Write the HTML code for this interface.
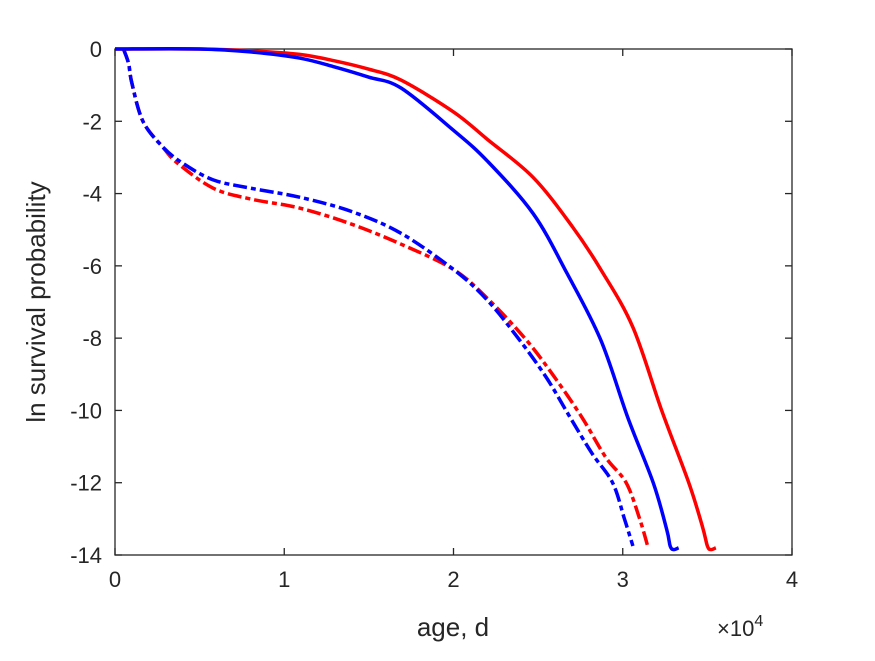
<!DOCTYPE html>
<html><head><meta charset="utf-8"><style>
body{margin:0;background:#fff}
svg text{font-family:"Liberation Sans",sans-serif;fill:#262626}
</style></head><body>
<svg id="chart" width="875" height="656" viewBox="0 0 875 656" xmlns="http://www.w3.org/2000/svg">
<g id="plot"></g>
</svg>
<script>
const xTicks=[0,1,2,3,4];
const yTicks=[0,-2,-4,-6,-8,-10,-12,-14];
const redSolidX=[0,0.5,0.8,1.09,1.3,1.5,1.69,2.0,2.2,2.47,2.7,2.87,3.06,3.23,3.39,3.47,3.5,3.52,3.55];
const redSolidY=[0,0,-0.05,-0.15,-0.33,-0.56,-0.86,-1.74,-2.5,-3.55,-4.9,-6.1,-7.7,-10.0,-12,-13.2,-13.75,-13.85,-13.8];
const blueSolidX=[0,0.5,0.8,1.09,1.3,1.5,1.69,2.0,2.2,2.47,2.67,2.87,3.03,3.18,3.26,3.28,3.3,3.33];
const blueSolidY=[0,0,-0.08,-0.25,-0.5,-0.78,-1.08,-2.25,-3.1,-4.55,-6.2,-8.05,-10.2,-12,-13.3,-13.75,-13.85,-13.8];
const redDashX=[0.05,0.08,0.1,0.165,0.28,0.37,0.58,0.8,1.09,1.4,1.69,2.0,2.2,2.43,2.6,2.76,2.9,3.02,3.1,3.15];
const redDashY=[0,-0.4,-0.95,-2.0,-2.7,-3.16,-3.85,-4.15,-4.4,-4.85,-5.4,-6.1,-6.9,-8.05,-9.1,-10.2,-11.3,-12,-13,-13.8];
const blueDashX=[0.05,0.08,0.1,0.165,0.28,0.4,0.58,0.8,1.09,1.4,1.69,2.0,2.2,2.39,2.55,2.69,2.82,2.94,3.01,3.06];
const blueDashY=[0,-0.4,-0.95,-2.0,-2.7,-3.16,-3.62,-3.85,-4.1,-4.5,-5.1,-6.1,-6.95,-8.05,-9.1,-10.2,-11.2,-12,-13,-13.75];

const L=115,R=792,T=49,B=555;
const xs=v=>L+(v-0)/(4-0)*(R-L);
const ys=v=>T+(0-v)/(14)*(B-T);
const NS="http://www.w3.org/2000/svg";
const g=document.getElementById('plot');
function mk(tag,attrs){const e=document.createElementNS(NS,tag);for(const k in attrs)e.setAttribute(k,attrs[k]);g.appendChild(e);return e;}
const box=mk('rect',{x:L,y:T,width:R-L,height:B-T,fill:'none',stroke:'#262626','stroke-width':1.3});


xTicks.forEach(t=>{
  const x=xs(t);
  const l1=mk('line',{x1:x,y1:B,x2:x,y2:B-7,stroke:'#262626','stroke-width':1.3});
  
  
  const l2=mk('line',{x1:x,y1:T,x2:x,y2:T+7,stroke:'#262626','stroke-width':1.3});
  
  
  const tx=mk('text',{x:x,y:B+32,'font-size':22,'text-anchor':'middle'});
  tx.textContent=t;
  
  
});
yTicks.forEach(t=>{
  const y=ys(t);
  const l1=mk('line',{x1:L,y1:y,x2:L+7,y2:y,stroke:'#262626','stroke-width':1.3});
  
  
  const l2=mk('line',{x1:R,y1:y,x2:R-7,y2:y,stroke:'#262626','stroke-width':1.3});
  
  
  const tx=mk('text',{x:L-13,y:y+8,'font-size':22,'text-anchor':'end'});
  tx.textContent=t;
  
  
});
function smoothPath(P){
  let d='M'+P[0][0]+','+P[0][1];
  for(let i=0;i<P.length-1;i++){
    const p0=P[Math.max(i-1,0)],p1=P[i],p2=P[i+1],p3=P[Math.min(i+2,P.length-1)];
    const c1x=p1[0]+(p2[0]-p0[0])/6,c1y=p1[1]+(p2[1]-p0[1])/6;
    const c2x=p2[0]-(p3[0]-p1[0])/6,c2y=p2[1]-(p3[1]-p1[1])/6;
    d+=' C'+c1x+','+c1y+' '+c2x+','+c2y+' '+p2[0]+','+p2[1];
  }
  return d;
}
function series(X,Y,color,dash,name){
  const pts=X.map((x,i)=>[xs(x),ys(Y[i])]);
  const p=mk('path',{d:smoothPath(pts),fill:'none',stroke:color,'stroke-width':3.5,'stroke-linejoin':'round'});
  if(dash)p.setAttribute('stroke-dasharray',dash);
  
  
}
series(redDashX,redDashY,'#ff0000','14,4,5,4','red-dashed-line');
series(blueDashX,blueDashY,'#0000ff','14,4,5,4','blue-dashed-line');
series(redSolidX,redSolidY,'#ff0000',null,'red-solid-line');
series(blueSolidX,blueSolidY,'#0000ff',null,'blue-solid-line');
const xl=mk('text',{x:453,y:636,'font-size':26,'text-anchor':'middle'});
xl.textContent='age, d';


const yl=mk('text',{x:0,y:0,'font-size':26,'text-anchor':'middle',transform:'translate(45,302) rotate(-90)'});
yl.textContent='ln survival probability';


const ex=mk('text',{x:717,y:636,'font-size':22});
ex.innerHTML='×10<tspan dy="-10" font-size="16">4</tspan>';


</script>
</body></html>
